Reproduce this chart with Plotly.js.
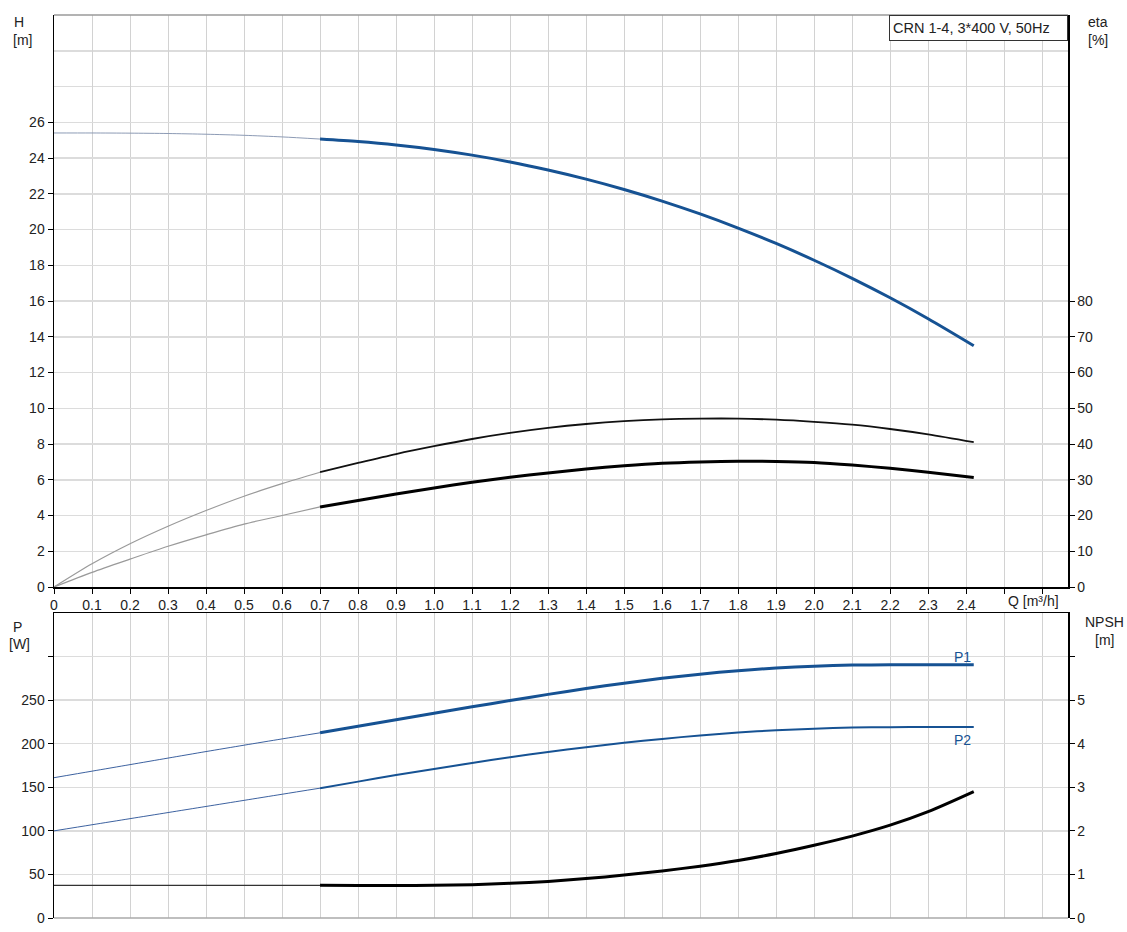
<!DOCTYPE html>
<html><head><meta charset="utf-8">
<script src="https://cdn.plot.ly/plotly-3.0.1.min.js"></script>
<style>html,body{margin:0;padding:0;background:#fff}#chart{width:1127px;height:932px}</style>
</head><body><div id="chart"></div>
<script>
// Flow values (m³/h)
const qLow = [0, 0.1, 0.2, 0.3, 0.4, 0.5, 0.6, 0.7];
const qOp = [0.7, 0.8, 0.9, 1.0, 1.1, 1.2, 1.3, 1.4, 1.5, 1.6, 1.7, 1.8, 1.9, 2.0, 2.1, 2.2, 2.3, 2.42];

// Head H (m)
const hLow = [25.40, 25.40, 25.39, 25.37, 25.33, 25.27, 25.18, 25.06];
const hOp = [25.06, 24.92, 24.73, 24.48, 24.16, 23.78, 23.33, 22.82, 22.24, 21.59, 20.87, 20.08, 19.22, 18.28, 17.27, 16.18, 15.01, 13.50];

// Efficiency eta (%) - upper curve
const etaALow = [0, 6.5, 12.1, 17.0, 21.4, 25.4, 28.9, 32.1];
const etaAOp = [32.1, 34.7, 37.2, 39.4, 41.4, 43.1, 44.5, 45.6, 46.4, 46.9, 47.1, 47.1, 46.8, 46.2, 45.4, 44.2, 42.7, 40.5];
// Efficiency eta (%) - lower curve
const etaBLow = [0, 4.1, 7.8, 11.4, 14.6, 17.6, 20.0, 22.4];
const etaBOp = [22.4, 24.2, 26.0, 27.7, 29.3, 30.7, 31.9, 33.0, 33.9, 34.6, 35.0, 35.2, 35.1, 34.8, 34.1, 33.2, 32.1, 30.6];

// Power P1, P2 (W)
const p1Low = [161, 168.5, 176, 183.5, 191, 198.3, 205.5, 212.5];
const p1Op = [212.5, 220, 227.6, 235, 242.3, 249.5, 256.6, 263.3, 269.5, 275.0, 279.8, 283.8, 286.9, 289.0, 290.2, 290.6, 290.6, 290.5];
const p2Low = [100, 107, 114, 121, 128, 135, 142, 149];
const p2Op = [149, 156.5, 164, 171, 178, 184.5, 190.5, 196, 201, 205.5, 209.5, 212.8, 215.4, 217.3, 218.5, 219.0, 219.2, 219.2];

// NPSH (m)
const npshLow = [0.75, 0.75, 0.75, 0.75, 0.75, 0.75, 0.75, 0.75];
const npshOp = [0.75, 0.745, 0.745, 0.75, 0.765, 0.795, 0.84, 0.905, 0.985, 1.08, 1.19, 1.32, 1.48, 1.67, 1.88, 2.13, 2.44, 2.90];

// Tick labels
const qTickVals = [0, 0.1, 0.2, 0.3, 0.4, 0.5, 0.6, 0.7, 0.8, 0.9, 1.0, 1.1, 1.2, 1.3, 1.4, 1.5, 1.6, 1.7, 1.8, 1.9, 2.0, 2.1, 2.2, 2.3, 2.4, 2.5, 2.6];
const qTickText = ["0", "0.1", "0.2", "0.3", "0.4", "0.5", "0.6", "0.7", "0.8", "0.9", "1.0", "1.1", "1.2", "1.3", "1.4", "1.5", "1.6", "1.7", "1.8", "1.9", "2.0", "2.1", "2.2", "2.3", "2.4", "", ""];
const hTickVals = [0, 2, 4, 6, 8, 10, 12, 14, 16, 18, 20, 22, 24, 26];
const hExtraGrid = [28, 30];
const etaTickVals = [0, 10, 20, 30, 40, 50, 60, 70, 80];
const pTickVals = [0, 50, 100, 150, 200, 250, 300];
const pTickText = ["0", "50", "100", "150", "200", "250", ""];
const npshTickVals = [0, 1, 2, 3, 4, 5, 6];
const npshTickText = ["0", "1", "2", "3", "4", "5", ""];

const BLUE = '#165293';
const FONT = 'Liberation Sans, Arial, sans-serif';

function line(x, y, xa, ya, color, width) {
  return {x: x, y: y, xaxis: xa, yaxis: ya, type: 'scatter', mode: 'lines',
    line: {color: color, width: width, shape: 'spline', smoothing: 0.8}, hoverinfo: 'skip', showlegend: false};
}

const data = [
  line(qLow, hLow, 'x', 'y', '#8d9bb5', 1),
  line(qOp, hOp, 'x', 'y', BLUE, 3),
  line(qLow, etaALow, 'x', 'y2', '#9a9a9a', 1.2),
  line(qOp, etaAOp, 'x', 'y2', '#111', 1.8),
  line(qLow, etaBLow, 'x', 'y2', '#9a9a9a', 1.2),
  line(qOp, etaBOp, 'x', 'y2', '#000', 3),
  line(qLow, p1Low, 'x2', 'y3', '#3d62a0', 1),
  line(qOp, p1Op, 'x2', 'y3', BLUE, 3),
  line(qLow, p2Low, 'x2', 'y3', '#3d62a0', 1),
  line(qOp, p2Op, 'x2', 'y3', BLUE, 2),
  line(qLow, npshLow, 'x2', 'y4', '#333', 1.2),
  line(qOp, npshOp, 'x2', 'y4', '#000', 3)
];

const W = 1127, H = 932, L = 54, R = 1068, T = 15, B = 918;
const px = v => (v - L) / (R - L);
const py = v => (B - v) / (B - T);

const tickFont = {family: FONT, size: 14, color: '#222'};
const HGRID = '#dcdcdc', VGRID = '#d2d2d2';

const layout = {
  width: W, height: H,
  margin: {l: L, r: W - R, t: T, b: H - B, pad: 0},
  paper_bgcolor: '#fff', plot_bgcolor: '#fff',
  font: {family: FONT, size: 14, color: '#222'},
  showlegend: false,
  xaxis: {domain: [0, 1], anchor: 'y', range: [0, 2.668], tickmode: 'array', tickvals: qTickVals, ticktext: qTickText,
    ticks: 'outside', ticklen: 5, tickcolor: '#000', showline: true, linecolor: '#000', linewidth: 1.5,
    showgrid: true, gridcolor: VGRID, gridwidth: 1, zeroline: false, tickfont: tickFont, fixedrange: true},
  yaxis: {domain: [py(587), 1], anchor: 'x', range: [0, 32], tickmode: 'array', tickvals: hTickVals,
    ticks: 'outside', ticklen: 5, tickcolor: '#000', showline: true, linecolor: '#000', linewidth: 1.5,
    showgrid: true, gridcolor: HGRID, gridwidth: 1.5, zeroline: false, tickfont: tickFont,
    minor: {tickmode: 'array', tickvals: hExtraGrid, showgrid: true, gridcolor: HGRID, gridwidth: 1.5, ticks: ''}},
  yaxis2: {overlaying: 'y', side: 'right', anchor: 'x', range: [0, 160], tickmode: 'array', tickvals: etaTickVals,
    ticks: 'outside', ticklen: 5, tickcolor: '#000', showline: true, linecolor: '#000', linewidth: 1.5,
    showgrid: false, zeroline: false, tickfont: tickFont},
  xaxis2: {domain: [0, 1], anchor: 'y3', range: [0, 2.668], tickmode: 'array', tickvals: qTickVals,
    showticklabels: false, ticks: '', side: 'top', showline: true, linecolor: '#000', linewidth: 1.5,
    showgrid: true, gridcolor: VGRID, gridwidth: 1, zeroline: false},
  yaxis3: {domain: [0, py(613)], anchor: 'x2', range: [0, 350], tickmode: 'array', tickvals: pTickVals, ticktext: pTickText,
    ticks: 'outside', ticklen: 5, tickcolor: '#000', showline: true, linecolor: '#000', linewidth: 1.5,
    showgrid: true, gridcolor: HGRID, gridwidth: 1.5, zeroline: false, tickfont: tickFont},
  yaxis4: {overlaying: 'y3', side: 'right', anchor: 'x2', range: [0, 7], tickmode: 'array', tickvals: npshTickVals, ticktext: npshTickText,
    ticks: 'outside', ticklen: 5, tickcolor: '#000', showline: true, linecolor: '#000', linewidth: 1.5,
    showgrid: false, zeroline: false, tickfont: tickFont},
  shapes: [
    {type: 'line', xref: 'paper', yref: 'paper', x0: 0, x1: 1, y0: 1, y1: 1, line: {color: '#9a9a9a', width: 1.5}},
    {type: 'line', xref: 'paper', yref: 'paper', x0: 0, x1: 1, y0: 0, y1: 0, line: {color: '#aaaaaa', width: 1.5}}
  ],
  annotations: [
    {text: 'H', xref: 'paper', yref: 'paper', x: px(19), y: py(22), showarrow: false, xanchor: 'center', yanchor: 'middle', font: {family: FONT, size: 14, color: '#222'}},
    {text: '[m]', xref: 'paper', yref: 'paper', x: px(22), y: py(40), showarrow: false, xanchor: 'center', yanchor: 'middle', font: {family: FONT, size: 14, color: '#222'}},
    {text: 'eta', xref: 'paper', yref: 'paper', x: px(1098), y: py(22), showarrow: false, xanchor: 'center', yanchor: 'middle', font: {family: FONT, size: 14, color: '#222'}},
    {text: '[%]', xref: 'paper', yref: 'paper', x: px(1098), y: py(40), showarrow: false, xanchor: 'center', yanchor: 'middle', font: {family: FONT, size: 14, color: '#222'}},
    {text: 'P', xref: 'paper', yref: 'paper', x: px(17), y: py(627), showarrow: false, xanchor: 'center', yanchor: 'middle', font: {family: FONT, size: 14, color: '#222'}},
    {text: '[W]', xref: 'paper', yref: 'paper', x: px(19), y: py(644), showarrow: false, xanchor: 'center', yanchor: 'middle', font: {family: FONT, size: 14, color: '#222'}},
    {text: 'NPSH', xref: 'paper', yref: 'paper', x: px(1104), y: py(622), showarrow: false, xanchor: 'center', yanchor: 'middle', font: {family: FONT, size: 14, color: '#222'}},
    {text: '[m]', xref: 'paper', yref: 'paper', x: px(1104), y: py(640), showarrow: false, xanchor: 'center', yanchor: 'middle', font: {family: FONT, size: 14, color: '#222'}},
    {text: 'Q [m³/h]', xref: 'paper', yref: 'paper', x: px(1033), y: py(601), showarrow: false, xanchor: 'center', yanchor: 'middle', font: {family: FONT, size: 14, color: '#222'}},
    {text: 'CRN 1-4, 3*400 V, 50Hz', xref: 'paper', yref: 'paper', x: 1, y: 1, xanchor: 'right', yanchor: 'top', showarrow: false,
      width: 171, height: 18, align: 'left', valign: 'middle',
      bgcolor: '#fff', bordercolor: '#333', borderwidth: 1, borderpad: 3, font: {family: FONT, size: 14.5, color: '#222'}},
    {text: 'P1', xref: 'x2', yref: 'y3', x: 2.39, y: 300, showarrow: false, xanchor: 'center', yanchor: 'middle', font: {family: FONT, size: 14, color: BLUE}},
    {text: 'P2', xref: 'x2', yref: 'y3', x: 2.39, y: 204, showarrow: false, xanchor: 'center', yanchor: 'middle', font: {family: FONT, size: 14, color: BLUE}}
  ]
};

Plotly.newPlot('chart', data, layout, {displayModeBar: false, staticPlot: true});
</script></body></html>
